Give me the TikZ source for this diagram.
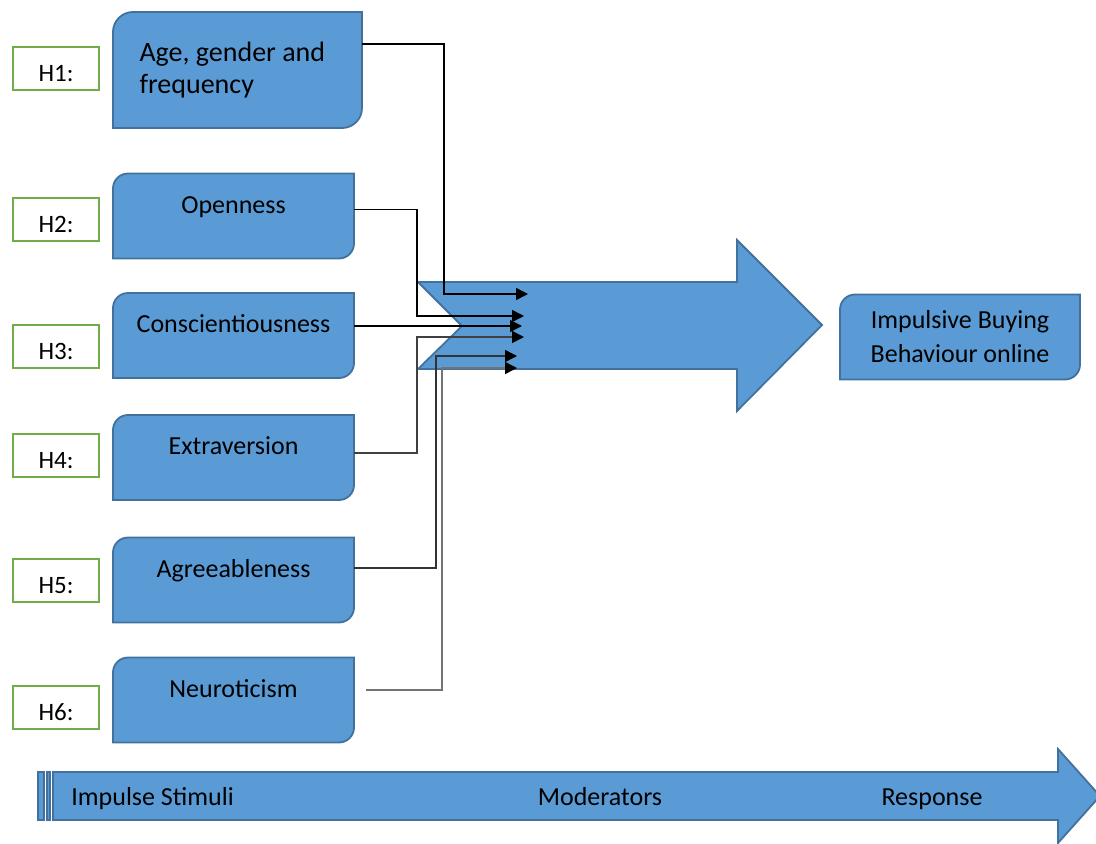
\documentclass[tikz,border=0pt]{standalone}
\usepackage{fontspec}
\setmainfont{Carlito}
\usepackage{tikz}
\usetikzlibrary{shapes,arrows.meta,positioning,calc,backgrounds}

\definecolor{boxfill}{HTML}{5B9BD5}
\definecolor{boxedge}{HTML}{41719C}
\definecolor{hgreen}{HTML}{70AD47}

% box with rounded top-left and bottom-right corners
\newcommand{\diagshape}[2]{%
  \filldraw[fill=boxfill, draw=boxedge, line width=0.9pt]
    ($(#1.north west)+(0,-#2)$) arc[start angle=180, end angle=90, radius=#2]
    -- (#1.north east) -- ($(#1.south east)+(0,#2)$)
    arc[start angle=0, end angle=-90, radius=#2]
    -- (#1.south west) -- cycle;}

\tikzset{
  factor/.style={minimum width=120.5pt, minimum height=42.5pt, inner sep=0pt, outer sep=0pt,
    text height=19.9pt, text depth=22.6pt, font=\fontsize{13}{16}\selectfont},
  agebox/.style={minimum width=124.5pt, minimum height=58pt, inner xsep=13pt, inner ysep=0pt,
    outer sep=0pt, align=flush left, text width=98pt, font=\fontsize{14}{16}\selectfont},
  resbox/.style={minimum width=120pt, minimum height=42.5pt, inner sep=0pt, outer sep=0pt,
    align=center, font=\fontsize{13}{17}\selectfont},
  hbox/.style={draw=hgreen, line width=1pt, fill=white, minimum width=43pt, minimum height=21.5pt,
    inner sep=0pt, text height=17.25pt, text depth=4.25pt, font=\fontsize{12.5}{15}\selectfont},
  stagetext/.style={inner sep=0pt, text height=9pt, text depth=3pt, font=\fontsize{13}{16}\selectfont},
  bluearrow/.style={fill=boxfill, draw=boxedge, line width=0.9pt},
  conn/.style={line width=0.75pt, -{Triangle[length=6pt,width=6pt,color=black]}},
}

\begin{document}
\begin{tikzpicture}[x=0.5pt,y=0.5pt]
  \useasboundingbox (0,0) rectangle (1096,843);

  % Hypothesis labels
  \foreach \i/\y in {1/774.5, 2/623.5, 3/496.5, 4/387.5, 5/262.5, 6/135.5}
    \node[hbox] (h\i) at (56,\y) {H\i:};

  % Factors
  \node[agebox] (age) at (237.5,773) {Age, gender and\\frequency};
  \node[factor] (open) at (233.5,627) {Openness};
  \node[factor] (consc) at (233.5,507.5) {Conscientiousness};
  \node[factor] (extra) at (233.5,385.5) {Extraversion};
  \node[factor] (agree) at (233.5,263) {Agreeableness};
  \node[factor] (neuro) at (233.5,143) {Neuroticism};

  % Response
  \node[resbox] (ibb) at (960,506) {Impulsive Buying\\Behaviour online};

  \begin{scope}[on background layer]
    \foreach \n/\rad in {age/10pt, open/7.5pt, consc/7.5pt, extra/7.5pt, agree/7.5pt, neuro/7.5pt, ibb/7.5pt}
      {\diagshape{\n}{\rad}}
  \end{scope}

  % Notched arrow
  \filldraw[bluearrow] (418,561) -- (737,561) -- (737,603) -- (822,518) -- (737,432)
    -- (737,474) -- (418,474) -- (462,517) -- cycle;

  % Arrow tips
  \coordinate (t1) at (528,549);
  \coordinate (t2) at (524,527);
  \coordinate (t3) at (522,517);
  \coordinate (t4) at (524,506);
  \coordinate (t5) at (517,487);
  \coordinate (t6) at (517,475);

  % Connectors
  \draw[conn] ([yshift=13pt]age.east) -| (444,549) -- (t1);
  \draw[conn] ([yshift=3.25pt]open.east) -| (417,527) -- (t2);
  \draw[conn] ([yshift=4.75pt]consc.east) -- (t3);
  \draw[conn, black!75] ([yshift=2.25pt]extra.east) -| (417,506) -- (t4);
  \draw[conn, black!80] ([yshift=6pt]agree.east) -| (436,487) -- (t5);
  \draw[conn, black!55] ([xshift=6pt,yshift=5pt]neuro.east) -| (442,475) -- (t6);

  % Striped stage arrow
  \filldraw[bluearrow] (38,23) rectangle (44,71);
  \filldraw[bluearrow] (47,23) rectangle (50,71);
  \filldraw[bluearrow] (53,23) -- (53,71) -- (1058,71) -- (1058,94) -- (1100,47)
    -- (1058,0) -- (1058,23) -- cycle;
  \node[stagetext, anchor=west] (stim) at (71,44) {Impulse Stimuli};
  \node[stagetext] (moder) at (600,44) {Moderators};
  \node[stagetext] (resp) at (932,44) {Response};
\end{tikzpicture}
\end{document}
